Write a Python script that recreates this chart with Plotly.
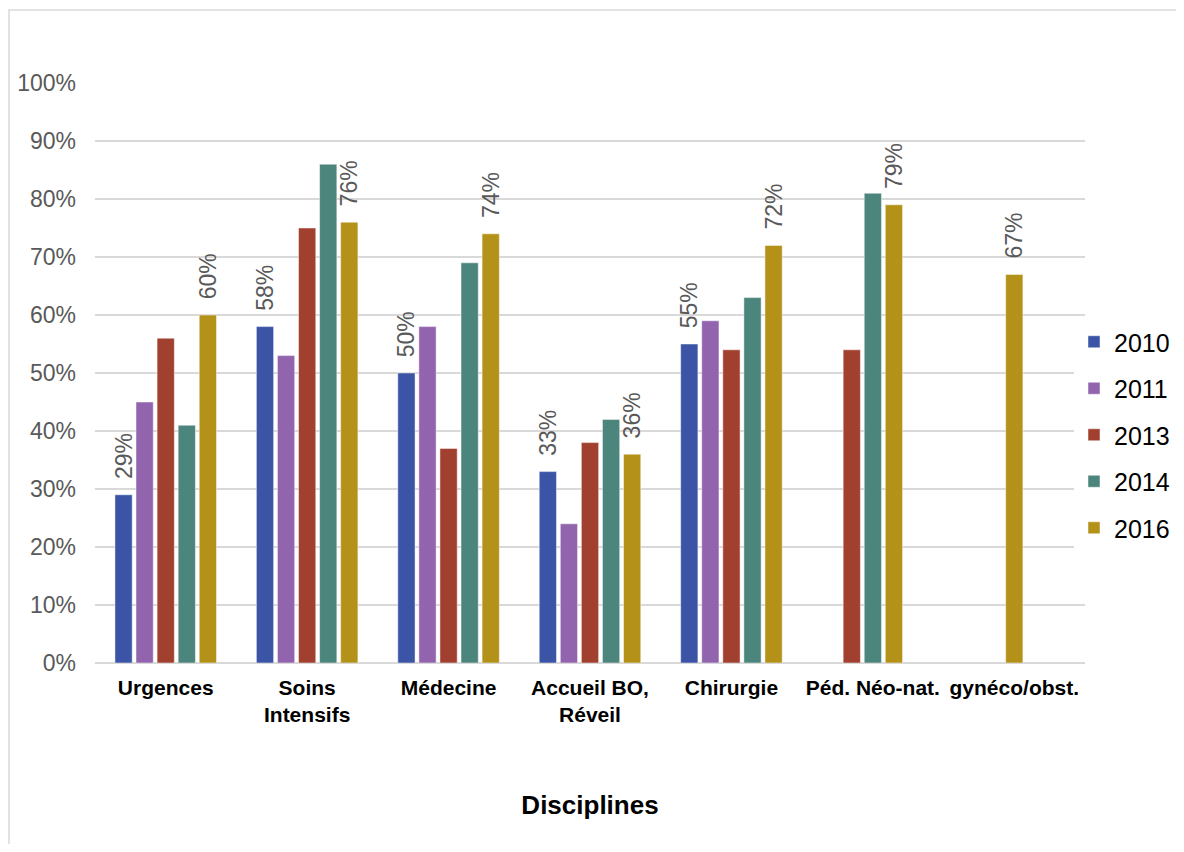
import plotly.graph_objects as go

categories = ["Urgences", "Soins<br>Intensifs", "Médecine", "Accueil BO,<br>Réveil",
              "Chirurgie", "Péd. Néo-nat.", "gynéco/obst."]
years = ["2010", "2011", "2013", "2014", "2016"]
v2010 = [0.29, 0.58, 0.50, 0.33, 0.55, None, None]
v2011 = [0.45, 0.53, 0.58, 0.24, 0.59, None, None]
v2013 = [0.56, 0.75, 0.37, 0.38, 0.54, 0.54, None]
v2014 = [0.41, 0.86, 0.69, 0.42, 0.63, 0.81, None]
v2016 = [0.60, 0.76, 0.74, 0.36, 0.72, 0.79, 0.67]
series = [v2010, v2011, v2013, v2014, v2016]
labelled = ["2010", "2016"]
colors = ["#3B54A5", "#9264AE", "#A1402E", "#4B857C", "#B49119"]

SLOT = 0.149
WIDTH = 0.122

# per-category positions of the bars that exist (missing bars are dropped, group recentred)
present = [[s for s in range(len(series)) if series[s][c] is not None] for c in range(len(categories))]

fig = go.Figure()
for s, (yr, vals, col) in enumerate(zip(years, series, colors)):
    offsets = []
    for c in range(len(categories)):
        if vals[c] is None:
            offsets.append(0)
        else:
            n = len(present[c])
            k = present[c].index(s)
            offsets.append((k - (n - 1) / 2) * SLOT - WIDTH / 2)
    text = None
    if yr in labelled:
        text = ["" if v is None else "\u00a0\u00a0" + f"{round(v*100)}%" for v in vals]
    fig.add_trace(go.Bar(
        x=categories, y=vals, name=yr, marker_color=col,
        marker_line=dict(width=0.8, color="rgba(255,255,255,0.6)"),
        offset=offsets, width=WIDTH,
        text=text, textposition="outside", textangle=-90,
        constraintext="none", cliponaxis=False,
        textfont=dict(family="Liberation Sans, Arial", size=23, color="#595959"),
        legendgroup=yr,
    ))

fig.update_layout(
    width=1168, height=836,
    paper_bgcolor="white", plot_bgcolor="white",
    margin=dict(l=87, r=91, t=75, b=181, autoexpand=False),
    barmode="overlay",
    font=dict(family="Liberation Sans, Arial", color="#595959"),
    legend=dict(xref="container", yref="container", x=1066 / 1168, xanchor="left",
                y=1 - 427 / 836, yanchor="middle",
                font=dict(size=25, color="#000000"), traceorder="grouped",
                tracegroupgap=11, itemwidth=30),
    showlegend=True,
    xaxis=dict(
        tickfont=dict(size=21, color="#000000", family="Liberation Sans, Arial"),
        showgrid=False, showline=False, ticks="", ticklabelstandoff=10,
        title=dict(text="<b>Disciplines</b>", font=dict(size=26, color="#000000"), standoff=70),
    ),
    yaxis=dict(
        range=[0, 1], tickformat=".0%", dtick=0.1,
        tickfont=dict(size=23, color="#595959"),
        gridcolor="#D9D9D9", gridwidth=1.5,
        zeroline=True, zerolinecolor="#D9D9D9", zerolinewidth=1.5,
        showline=False, ticks="", ticklabelstandoff=18,
    ),
    shapes=[dict(type="rect", xref="paper", yref="paper",
                 x0=(1 - 87) / 990, x1=(1200 - 87) / 990,
                 y0=(655 - 870) / 580, y1=(655 - 2) / 580,
                 line=dict(color="#D9D9D9", width=1.5), fillcolor="rgba(0,0,0,0)", layer="below")],
)
# bold category labels
fig.update_xaxes(ticktext=["<b>" + c + "</b>" for c in categories], tickvals=categories)

fig.write_html("out.html")
